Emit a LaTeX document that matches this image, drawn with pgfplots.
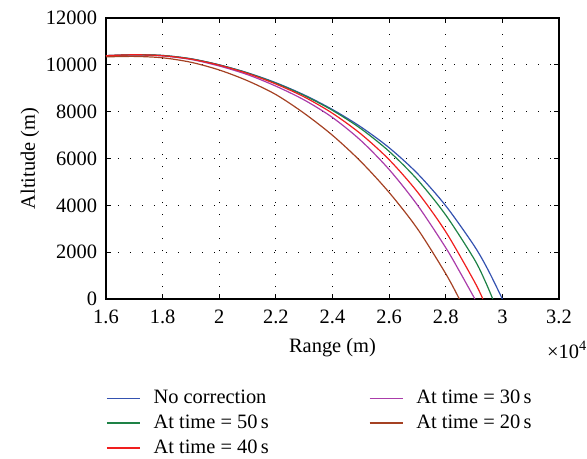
\documentclass[border=0pt]{standalone}
\usepackage{fontspec}
\setmainfont{Liberation Serif}
\usepackage{pgfplots}
\pgfplotsset{compat=1.18}
\definecolor{cblue}{RGB}{52,82,176}
\definecolor{cgreen}{RGB}{30,130,70}
\definecolor{cred}{RGB}{240,30,30}
\definecolor{cmag}{RGB}{170,60,170}
\definecolor{cbrown}{RGB}{165,65,35}
\begin{document}
\fontsize{20.5}{24}\selectfont
\begin{tikzpicture}
\begin{axis}[
  scale only axis, width=453bp, height=281bp,
  xmin=1.6, xmax=3.2, ymin=0, ymax=12000,
  xtick={1.6,1.8,2,2.2,2.4,2.6,2.8,3,3.2},
  ytick={0,2000,4000,6000,8000,10000,12000},
  tick align=inside, tick pos=both, major tick length=5bp,
  every tick/.style={black, line width=0.9bp},
  axis line style={line width=1.2bp, black},
  grid=major,
  grid style={black, line width=1bp, dash pattern=on 1bp off 11bp},
  /pgf/number format/assume math mode=true,
  /pgf/number format/set thousands separator={},
  scaled y ticks=false, scaled x ticks=false,
  tick label style={font=\fontsize{20.5}{24}\selectfont},
  xticklabel style={yshift=-4bp},
  yticklabel style={xshift=-2bp},
  label style={font=\fontsize{20.5}{24}\selectfont},
  xlabel={Range (m)}, ylabel={Altitude (m)},
  xlabel style={at={(axis description cs:0.5,-0.1744)}, anchor=center},
  ylabel style={at={(axis description cs:-0.1678,0.5)}, anchor=center},
  legend columns=2,
  legend cell align=left,
  legend image code/.code={\draw[#1, line width=1.6bp] (0bp,0.5bp) -- (33bp,0.5bp); \path (45bp,0bp);},
  legend style={at={(axis description cs:0,-0.317)}, anchor=north west,
    draw=none, fill=none, inner sep=0pt, row sep=3.6bp,
    font=\fontsize{20.5}{24}\selectfont,
    nodes={inner sep=1bp, text height=0.72em, text depth=0.22em},
    /tikz/every even column/.append style={column sep=99bp}},
  every axis plot/.append style={line width=1.2bp, smooth},
]
\addplot[cblue] coordinates {
(1.6,10390) (1.7,10430) (1.8,10400) (1.9,10260) (2.0,10000) (2.1,9660) (2.2,9235) (2.3,8715)
(2.4,8090) (2.5,7350) (2.6,6460) (2.7,5360) (2.8,3980) (2.9,2280) (2.95,1230) (3.0,0)};
\addlegendentry{No correction}
\addplot[cmag] coordinates {
(1.6,10390) (1.7,10420) (1.8,10380) (1.9,10230) (2.0,9950) (2.1,9580) (2.2,9090) (2.3,8500)
(2.4,7750) (2.5,6770) (2.6,5530) (2.7,4010) (2.8,2190) (2.85,1150) (2.903,0)};
\addlegendentry{At time = 30\,s}
\addplot[cgreen] coordinates {
(1.6,10390) (1.7,10430) (1.8,10400) (1.9,10255) (2.0,9995) (2.1,9650) (2.2,9215) (2.3,8690)
(2.4,8055) (2.5,7275) (2.6,6305) (2.7,5095) (2.8,3585) (2.9,1715) (2.94,740) (2.966,0)};
\addlegendentry{At time = 50\,s}
\addplot[cbrown] coordinates {
(1.6,10340) (1.7,10360) (1.8,10300) (1.9,10110) (2.0,9780) (2.1,9320) (2.2,8730) (2.3,7930)
(2.4,6990) (2.5,5870) (2.6,4550) (2.7,3000) (2.8,1080) (2.848,0)};
\addlegendentry{At time = 20\,s}
\addplot[cred] coordinates {
(1.6,10390) (1.7,10430) (1.8,10390) (1.9,10245) (2.0,9985) (2.1,9630) (2.2,9180) (2.3,8630)
(2.4,7930) (2.5,7050) (2.6,5950) (2.7,4570) (2.8,2870) (2.9,770) (2.931,0)};
\addlegendentry{At time = 40\,s}
\end{axis}
\node[anchor=west, inner sep=0pt] at ([xshift=-12bp, yshift=-51bp]current axis.south east) {×10\textsuperscript{4}};
\pgfresetboundingbox
\useasboundingbox ([xshift=-106bp, yshift=-160bp]current axis.south west) rectangle ++(587bp,459bp);
\end{tikzpicture}
\end{document}
